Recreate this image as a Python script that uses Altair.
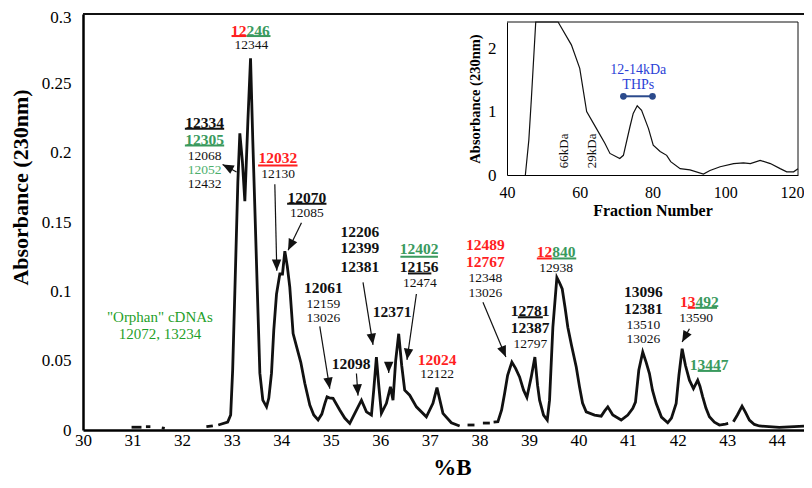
import math
import altair as alt
import pandas as pd

FONT = "Liberation Serif"
RED = "#ff1f1f"
GREEN = "#3a9a5e"
LGREEN = "#4caf6c"
OGREEN = "#1fa02a"
BLACK = "#111111"
BLUE = "#2b3fd6"
NAVY = "#2b4a8c"

# ---------------- main chromatogram (%B vs absorbance), in segments (gaps = dashed parts)
seg_x = [
    [30.98, 31.18],
    [31.27, 31.36],
    [31.59, 31.65],
    [32.49, 32.62],
    [32.73, 32.92, 32.98, 33.02, 33.065, 33.125, 33.165, 33.216, 33.266, 33.327, 33.381, 33.427,
     33.468, 33.518, 33.569, 33.629, 33.704, 33.75, 33.804, 33.85, 33.905, 33.972, 34.026, 34.073,
     34.123, 34.173, 34.24, 34.341, 34.395, 34.476, 34.577, 34.657, 34.744, 34.819, 34.88, 34.925,
     34.97, 35.046, 35.181, 35.282, 35.383, 35.518, 35.619, 35.72, 35.821, 35.867, 35.921, 35.968,
     36.022, 36.123, 36.204, 36.256, 36.31, 36.371, 36.431, 36.492, 36.593, 36.728, 36.929, 37.062,
     37.143, 37.264, 37.433, 37.601],
    [37.76, 37.90],
    [38.07, 38.21],
    [38.286, 38.373, 38.448, 38.508, 38.569, 38.655, 38.73, 38.81, 38.891, 38.958, 39.046, 39.119,
     39.173, 39.214, 39.294, 39.369, 39.415, 39.482, 39.563, 39.617, 39.671, 39.728, 39.784, 39.859,
     39.954, 40.02, 40.081, 40.155, 40.323, 40.458, 40.524, 40.591, 40.645, 40.692, 40.861, 40.994,
     41.095, 41.149, 41.216, 41.296, 41.365, 41.431, 41.492, 41.566, 41.673, 41.8, 41.875, 41.97,
     42.026, 42.091, 42.157, 42.238, 42.319, 42.405, 42.45, 42.506, 42.571, 42.641, 42.742, 42.843,
     42.964, 43.02],
    [43.125, 43.206, 43.30, 43.367, 43.448, 43.548, 43.649, 44.052, 44.55],
]
seg_y = [
    [0.002, 0.002],
    [0.0024, 0.0024],
    [0.0016, 0.0012],
    [0.0024, 0.003],
    [0.0036, 0.0057, 0.0108, 0.043, 0.1005, 0.179, 0.214, 0.194, 0.165, 0.2225, 0.268, 0.208,
     0.160, 0.1005, 0.041, 0.0215, 0.0167, 0.023, 0.041, 0.072, 0.098, 0.1125, 0.1125, 0.129,
     0.118, 0.103, 0.0696, 0.056, 0.0488, 0.0337, 0.018, 0.0108, 0.0072, 0.0115, 0.019, 0.0239,
     0.0232, 0.0228, 0.0144, 0.0086, 0.0048, 0.0144, 0.0215, 0.0131, 0.0108, 0.0287, 0.0526, 0.0323,
     0.012, 0.0192, 0.0311, 0.0215, 0.050, 0.0694, 0.0467, 0.0287, 0.0251, 0.0167, 0.0095, 0.0192,
     0.0306, 0.012, 0.0052, 0.0029],
    [0.0036, 0.0036],
    [0.005, 0.005],
    [0.0057, 0.006, 0.0144, 0.0263, 0.0395, 0.049, 0.0445, 0.0383, 0.0287, 0.0235, 0.0383, 0.0526,
     0.0323, 0.0215, 0.0108, 0.0072, 0.0215, 0.0741, 0.110, 0.1062, 0.1017, 0.0883, 0.0741, 0.061,
     0.0454, 0.0311, 0.0194, 0.0131, 0.0108, 0.010, 0.0136, 0.0167, 0.0136, 0.0108, 0.0072, 0.0108,
     0.0156, 0.0201, 0.0431, 0.0562, 0.0488, 0.0407, 0.0287, 0.0192, 0.0093, 0.0052, 0.0086, 0.0192,
     0.0395, 0.0586, 0.0467, 0.0359, 0.0299, 0.0359, 0.0316, 0.0239, 0.0158, 0.0095, 0.0057, 0.0036,
     0.0043, 0.0047],
    [0.006, 0.0108, 0.0172, 0.0129, 0.0072, 0.004, 0.0029, 0.0019, 0.0028],
]

x_ticks = list(range(30, 45))
y_ticks = [0, 0.05, 0.1, 0.15, 0.2, 0.25, 0.3]

# bold labels (centred)
b_x = [32.454, 32.454, 33.931, 34.516, 35.585, 35.585, 35.585, 36.784, 36.784, 34.849, 36.236,
       35.413, 37.147, 38.121, 38.121, 39.022, 39.022, 41.310, 41.310, 42.635]
b_y = [0.2213, 0.2094, 0.1962, 0.1675, 0.1431, 0.1309, 0.1179, 0.1304, 0.1172, 0.1024, 0.0849,
       0.0474, 0.0508, 0.1333, 0.1208, 0.0861, 0.0734, 0.0993, 0.0874, 0.0472]
b_t = ["12334", "12305", "12032", "12070", "12206", "12399", "12381", "12402", "12156", "12061",
       "12371", "12098", "12024", "12489", "12767", "12781", "12387", "13096", "12381", "13447"]
b_c = [BLACK, GREEN, RED, BLACK, BLACK, BLACK, BLACK, GREEN, BLACK, BLACK,
       BLACK, BLACK, RED, RED, RED, BLACK, BLACK, BLACK, BLACK, GREEN]

# two-coloured bold labels: red part (right aligned) + green part (left aligned)
s_x = [33.300, 39.470, 42.359]
s_y = [0.2879, 0.1287, 0.0926]
s_left = ["12", "12", "13"]
s_right = ["246", "840", "492"]

# normal labels (centred)
n_x = [33.397, 32.454, 32.454, 32.454, 33.937, 34.516, 36.798, 34.849, 34.849, 37.147, 38.121,
       38.121, 39.550, 39.028, 41.310, 41.310, 42.373]
n_y = [0.2773, 0.1979, 0.1872, 0.1775, 0.1843, 0.1563, 0.1060, 0.0910, 0.0809, 0.0402, 0.1096,
       0.0989, 0.1168, 0.0622, 0.0759, 0.0653, 0.0809]
n_t = ["12344", "12068", "12052", "12432", "12130", "12085", "12474", "12159", "13026", "12122",
       "12348", "13026", "12938", "12797", "13510", "13026", "13590"]
n_c = [BLACK, BLACK, LGREEN, BLACK, BLACK, BLACK, BLACK, BLACK, BLACK, BLACK,
       BLACK, BLACK, BLACK, BLACK, BLACK, BLACK, BLACK]

# orphan cDNAs note
o_x = [31.552, 31.552]
o_y = [0.0818, 0.0694]
o_t = ['"Orphan" cDNAs', "12072, 13234"]

# underlines
u_x1 = [32.998, 33.300, 32.056, 32.056, 33.534, 34.119, 36.405, 36.558, 39.159, 39.470, 38.776,
        42.204, 42.359, 42.405]
u_x2 = [33.300, 33.784, 32.849, 32.849, 34.329, 34.913, 37.163, 37.030, 39.470, 39.954, 39.280,
        42.359, 42.796, 42.877]
u_y = [0.2841, 0.2841, 0.2173, 0.2051, 0.1907, 0.1632, 0.1249, 0.1129, 0.1237, 0.1237, 0.0813,
       0.0881, 0.0881, 0.0426]
u_c = [RED, GREEN, BLACK, GREEN, RED, BLACK, GREEN, BLACK, RED, GREEN, BLACK, RED, GREEN, GREEN]

# arrows: tail -> tip
a_x1 = [33.099, 33.871, 34.409, 35.651, 36.728, 34.778, 36.169, 35.518, 38.071, 42.238]
a_y1 = [0.1861, 0.1773, 0.1495, 0.1065, 0.0981, 0.0747, 0.0488, 0.0407, 0.0921, 0.0730]
a_x2 = [32.817, 33.911, 34.139, 35.853, 36.538, 34.980, 36.169, 35.550, 38.534, 42.091]
a_y2 = [0.1915, 0.1149, 0.1297, 0.0614, 0.0506, 0.0298, 0.0411, 0.0248, 0.0526, 0.0634]

# ---------------- inset: gel filtration profile
f_x = [45.05, 46.0, 46.7, 47.9, 51, 54.05, 57.7, 60, 61.9, 64.6, 66.9, 68.3, 71, 72, 73.8, 74.7,
       75.8, 77, 78.9, 80.2, 82.1, 83.9, 85, 87.6, 90.3, 94, 95.8, 98.6, 102.3, 105, 106.9, 109.6,
       112.4, 115.1, 116.9, 118.8, 120]
f_y = [0, 0.55, 1.2, 2.41, 3.0, 2.41, 2.05, 1.68, 1.0, 0.73, 0.5, 0.34, 0.26, 0.31, 0.76, 0.97,
       1.09, 1.02, 0.73, 0.47, 0.37, 0.31, 0.21, 0.10, 0.08, 0.016, 0.07, 0.13, 0.18, 0.19, 0.18,
       0.23, 0.18, 0.10, 0.05, 0.05, 0.10]
f_xt = [40, 60, 80, 100, 120]
f_yt = [0, 1, 2]
kda_x = [55.62, 63.47]
kda_y = [0.381, 0.381]
kda_t = ["66kDa", "29kDa"]
thp_x = [76.09, 76.09]
thp_y = [1.654, 1.417]
thp_t = ["12-14kDa", "THPs"]
thp_bar_x = [72.0, 80.0]
thp_bar_y = [1.24, 1.24]

# ---------------- geometry
W, H = 721, 416
XD = [30, 44.55]
YD = [0, 0.3]
PX = W / (XD[1] - XD[0])
PY = H / (YD[1] - YD[0])

rows = []
for i, (xs, ys) in enumerate(zip(seg_x, seg_y)):
    for a, b in zip(xs, ys):
        rows.append({"x": a, "y": b, "seg": i})
main_df = pd.DataFrame(rows)

xs_main = alt.Scale(domain=XD, nice=False, zero=False)
ys_main = alt.Scale(domain=YD, nice=False, zero=False)

x_axis = alt.Axis(orient="bottom", values=x_ticks, title="%B", labelFont=FONT, labelFontSize=17,
                  labelColor="black", ticks=False, domainColor="black", domainWidth=2.5,
                  labelPadding=2, labelFlush=False, labelOverlap=False, grid=False,
                  titleFont=FONT, titleFontSize=23, titleFontWeight="bold", titleColor="black",
                  titleX=369, titleY=49, titleBaseline="bottom")
y_axis = alt.Axis(orient="left", values=y_ticks, format="~g", labelFont=FONT, labelFontSize=17,
                  labelColor="black", ticks=False, domainColor="black", domainWidth=2.5,
                  labelPadding=12, labelFlush=False, labelOverlap=False, grid=False,
                  labelOffset={"condition": {"test": "datum.value === 0.3", "value": 3},
                               "value": 0},
                  title="Absorbance (230nm)", titleFont=FONT, titleFontSize=22,
                  titleFontWeight="bold", titleColor="black", titleX=-51, titleY=173)

trace = alt.Chart(main_df).mark_line(color=BLACK, strokeWidth=2.8, strokeJoin="miter").encode(
    x=alt.X("x:Q", scale=xs_main, axis=x_axis),
    y=alt.Y("y:Q", scale=ys_main, axis=y_axis),
    detail="seg:N",
)

top_df = pd.DataFrame({"x": [XD[0]], "x2": [XD[1]], "y": [YD[1]]})
top_line = alt.Chart(top_df).mark_rule(color=BLACK, strokeWidth=2).encode(
    x=alt.X("x:Q", scale=xs_main, axis=None), x2="x2:Q",
    y=alt.Y("y:Q", scale=ys_main, axis=None))


def xy(df_x="x", df_y="y"):
    return dict(x=alt.X(f"{df_x}:Q", scale=xs_main, axis=None),
                y=alt.Y(f"{df_y}:Q", scale=ys_main, axis=None))


bold_df = pd.DataFrame({"x": b_x, "y": b_y, "t": b_t, "c": b_c})
bold = alt.Chart(bold_df).mark_text(font=FONT, fontSize=15.5, fontWeight="bold",
                                    baseline="middle", align="center").encode(
    **xy(), text="t:N", color=alt.Color("c:N", scale=None))

sl_df = pd.DataFrame({"x": s_x, "y": s_y, "t": s_left})
sl = alt.Chart(sl_df).mark_text(font=FONT, fontSize=15.5, fontWeight="bold", baseline="middle",
                                align="right", color=RED).encode(**xy(), text="t:N")
sr_df = pd.DataFrame({"x": s_x, "y": s_y, "t": s_right})
sr = alt.Chart(sr_df).mark_text(font=FONT, fontSize=15.5, fontWeight="bold", baseline="middle",
                                align="left", color=GREEN).encode(**xy(), text="t:N")

norm_df = pd.DataFrame({"x": n_x, "y": n_y, "t": n_t, "c": n_c})
norm = alt.Chart(norm_df).mark_text(font=FONT, fontSize=13.5, baseline="middle",
                                    align="center").encode(
    **xy(), text="t:N", color=alt.Color("c:N", scale=None))

orph_df = pd.DataFrame({"x": o_x, "y": o_y, "t": o_t})
orph = alt.Chart(orph_df).mark_text(font=FONT, fontSize=15, baseline="middle", align="center",
                                    color=OGREEN).encode(**xy(), text="t:N")

ul_df = pd.DataFrame({"x": u_x1, "x2": u_x2, "y": u_y, "c": u_c})
ul = alt.Chart(ul_df).mark_rule(strokeWidth=2).encode(
    **xy(), x2="x2:Q", color=alt.Color("c:N", scale=None))

ang = []
for x1, y1, x2, y2 in zip(a_x1, a_y1, a_x2, a_y2):
    dx = (x2 - x1) * PX
    dy = -(y2 - y1) * PY
    ang.append(math.degrees(math.atan2(dx, -dy)) % 360)
ar_df = pd.DataFrame({"x": a_x1, "y": a_y1, "x2": a_x2, "y2": a_y2, "ang": ang})
ar_line = alt.Chart(ar_df).mark_rule(color=BLACK, strokeWidth=1.2).encode(
    **xy(), x2="x2:Q", y2="y2:Q")
ar_head = alt.Chart(ar_df).mark_point(shape="M0,0L-0.42,1L0.42,1Z", filled=True, opacity=1,
                                      color=BLACK, size=500, strokeWidth=0).encode(
    x=alt.X("x2:Q", scale=xs_main, axis=None), y=alt.Y("y2:Q", scale=ys_main, axis=None),
    angle=alt.Angle("ang:Q", scale=None))

# ---------------- inset
IX = [424, 715]
IY = [161, 8]
FD = [40, 120]
AD = [0, 2.41]
xs_in = alt.Scale(domain=FD, range=IX, nice=False, zero=False)
ys_in = alt.Scale(domain=AD, range=IY, nice=False, zero=False, clamp=True)

fx_axis = alt.Axis(orient="bottom", offset=IY[0] - H, values=f_xt, labelFont=FONT,
                   labelFontSize=16, labelColor="black", ticks=False, domainColor="black",
                   domainWidth=1, labelPadding=9, labelFlush=False, labelOverlap=False,
                   labelAlign={"condition": {"test": "datum.value === 120", "value": "right"},
                               "value": "center"},
                   labelOffset={"condition": {"test": "datum.value === 120", "value": 6},
                                "value": 0},
                   grid=False, title="Fraction Number", titleFont=FONT, titleFontSize=16,
                   titleFontWeight="bold", titleColor="black", titlePadding=2)
fy_axis = alt.Axis(orient="left", offset=-IX[0], values=f_yt, labelFont=FONT, labelFontSize=17,
                   labelColor="black", ticks=False, domainColor="black", domainWidth=1,
                   labelPadding=11, labelFlush=False, labelOverlap=False, grid=False,
                   title="Absorbance (230nm)", titleFont=FONT, titleFontSize=14.5,
                   titleFontWeight="bold", titleColor="black", titlePadding=5)

fr_df = pd.DataFrame({"fx": f_x, "ab": f_y})
fr_line = alt.Chart(fr_df).mark_line(color=BLACK, strokeWidth=1.2).encode(
    x=alt.X("fx:Q", scale=xs_in, axis=fx_axis),
    y=alt.Y("ab:Q", scale=ys_in, axis=fy_axis))


def ixy(fx="fx", ab="ab"):
    return dict(x=alt.X(f"{fx}:Q", scale=xs_in, axis=None),
                y=alt.Y(f"{ab}:Q", scale=ys_in, axis=None))


frame_df = pd.DataFrame({"fx": [FD[0], FD[1]], "fx2": [FD[1], FD[1]],
                         "ab": [AD[1], AD[0]], "ab2": [AD[1], AD[1]]})
frame = alt.Chart(frame_df).mark_rule(color=BLACK, strokeWidth=1).encode(
    **ixy(), x2="fx2:Q", y2="ab2:Q")

kda_df = pd.DataFrame({"fx": kda_x, "ab": kda_y, "t": kda_t})
kda = alt.Chart(kda_df).mark_text(font=FONT, fontSize=13, angle=270, baseline="middle",
                                  align="center", color=BLACK).encode(**ixy(), text="t:N")
thp_df = pd.DataFrame({"fx": thp_x, "ab": thp_y, "t": thp_t})
thp = alt.Chart(thp_df).mark_text(font=FONT, fontSize=14, baseline="middle", align="center",
                                  color=BLUE).encode(**ixy(), text="t:N")
bar_df = pd.DataFrame({"fx": thp_bar_x, "ab": thp_bar_y})
bar_line = alt.Chart(bar_df).mark_line(color=NAVY, strokeWidth=2).encode(**ixy())
bar_pts = alt.Chart(bar_df).mark_point(color=NAVY, filled=True, opacity=1, size=45).encode(**ixy())

# every layer carries explicit domains/ranges, so independent scales map identically
chart = alt.layer(
    trace, top_line, ul, ar_line, ar_head, bold, sl, sr, norm, orph,
    fr_line, frame, kda, thp, bar_line, bar_pts,
).resolve_scale(x="independent", y="independent").properties(
    width=W, height=H,
    autosize=alt.AutoSizeParams(type="none"),
    padding={"left": 75, "top": 6, "right": 0, "bottom": 50},
).configure_view(strokeWidth=0)

chart.save("out.html", embed_options={"renderer": "svg", "actions": False})
